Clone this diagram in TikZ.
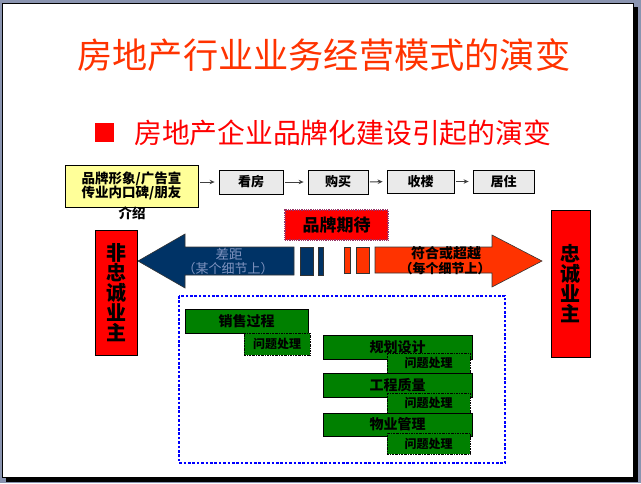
\documentclass[tikz,border=0pt]{standalone}
\usepackage{fontspec}
\setmainfont{Noto Sans CJK SC}
\usetikzlibrary{arrows.meta}
\definecolor{slidebg}{HTML}{8A94B0}
\definecolor{titlered}{HTML}{FF3300}
\definecolor{pureRed}{HTML}{FF0000}
\definecolor{navy}{HTML}{003366}
\definecolor{navytext}{HTML}{7F93BF}
\definecolor{orangered}{HTML}{FF3300}
\definecolor{dkgreen}{HTML}{008000}
\definecolor{dotblue}{HTML}{0000FF}
\definecolor{paleyellow}{HTML}{FFFF99}
\definecolor{lightgray}{HTML}{EAEAEA}
\definecolor{purpleborder}{HTML}{993366}
\begin{document}
\begin{tikzpicture}[x=1pt,y=-1pt,
  box/.style={draw=black,line width=0.8pt,inner sep=0pt,anchor=center},
  flowbox/.style={box,fill=lightgray,font=\bfseries\fontsize{13}{15}\selectfont},
  greenbox/.style={box,fill=dkgreen,font=\bfseries\fontsize{14}{16}\selectfont},
  qbox/.style={box,fill=dkgreen,dash pattern=on 2pt off 1pt on 0.6pt off 1pt,font=\bfseries\fontsize{12}{14}\selectfont},
  redbox/.style={box,fill=pureRed,font=\bfseries\fontsize{20}{21}\selectfont,align=center},
  flowarrow/.style={draw=black!75,line width=1pt,-{Stealth[length=5pt,width=4.5pt]},shorten <=1.5pt,shorten >=4pt},
  bigarrow/.style={draw=black!80,line width=0.6pt}
]
\useasboundingbox (0,0) rectangle (641,483);
% slide frame
\fill[slidebg] (0,0) rectangle (641,483);
\fill[black] (6,7) rectangle (638,482);
\draw[black,line width=1pt,fill=white] (2.5,3.5) rectangle (633,477);

% title
\node[text=titlered,font=\fontsize{35.2}{37}\selectfont,anchor=center] (title) at (324,55) {房地产行业业务经营模式的演变};
% subtitle
\fill[pureRed] (95,123) rectangle (114,142);
\node[text=pureRed,font=\fontsize{27.8}{30}\selectfont,anchor=west,inner sep=0pt] (subtitle) at (134,133) {房地产企业品牌化建设引起的演变};

% flow row
\node[box,fill=paleyellow,minimum width=133pt,minimum height=42pt,align=center,font=\bfseries\fontsize{13.5}{14.5}\selectfont] (brand) at (131.5,186) {品牌形象/广告宣\\传业内口碑/朋友};
\node[font=\bfseries\fontsize{13.5}{14.5}\selectfont,inner sep=0pt] (intro) at (132,213) {介绍};
\node[flowbox,minimum width=64pt,minimum height=24pt] (kf) at (251,182) {看房};
\node[flowbox,minimum width=60pt,minimum height=24pt] (gm) at (338,182) {购买};
\node[flowbox,minimum width=67pt,minimum height=23pt] (sl) at (420.5,181.5) {收楼};
\node[flowbox,minimum width=61pt,minimum height=23pt] (jz) at (503.5,181.5) {居住};
\draw[flowarrow] (brand.east |- kf.west) -- (kf.west);
\draw[flowarrow] (kf.east) -- (gm.west);
\draw[flowarrow] (gm.east) -- (sl.west);
\draw[flowarrow] (sl.east) -- (jz.west);

% brand expectation
\node[box,fill=pureRed,draw=purpleborder,densely dotted,line width=1.4pt,minimum width=103pt,minimum height=30pt,font=\bfseries\fontsize{17}{19}\selectfont] (expect) at (336.5,225) {品牌期待};

% left navy arrow
\filldraw[bigarrow,fill=navy] (138,261) -- (185,234) -- (185,247) -- (294,247) -- (294,275) -- (185,275) -- (185,288) -- cycle;
\filldraw[bigarrow,fill=navy] (300,247) rectangle (313,275);
\filldraw[bigarrow,fill=navy] (318,247) rectangle (323,275);
\node[text=navytext,font=\fontsize{13.5}{15}\selectfont,inner sep=0pt] (gap) at (229,254) {差距};
\node[text=navytext,font=\fontsize{13}{15}\selectfont,inner sep=0pt] (gapd) at (228,269) {（某个细节上）};

% right orange arrow
\filldraw[bigarrow,fill=orangered] (344,247) rectangle (350,273);
\filldraw[bigarrow,fill=orangered] (356,247) rectangle (369,273);
\filldraw[bigarrow,fill=orangered] (375,247) -- (492,247) -- (492,235) -- (542,261) -- (492,287) -- (492,273) -- (375,273) -- cycle;
\node[font=\bfseries\fontsize{14}{15}\selectfont,inner sep=0pt] (meet) at (446,253) {符合或超越};
\node[font=\bfseries\fontsize{13}{15}\selectfont,inner sep=0pt] (meetd) at (445,269) {（每个细节上）};

% side boxes
\node[redbox,minimum width=42pt,minimum height=125pt] (nonloyal) at (116,292.5) {非\\[-1pt]忠\\[-1pt]诚\\[-1pt]业\\[-1pt]主};
\node[redbox,minimum width=39pt,minimum height=147pt] (loyal) at (570.5,283.5) {忠\\[-1pt]诚\\[-1pt]业\\[-1pt]主};

% dotted frame
\draw[dotblue,line width=2.6pt,dash pattern=on 2.6pt off 1.8pt] (179,296) rectangle (505,463);

% green boxes
\node[greenbox,minimum width=123pt,minimum height=24pt] (sales) at (246.5,321) {销售过程};
\node[qbox,minimum width=66pt,minimum height=22pt] (q1) at (277,344) {问题处理};
\node[greenbox,minimum width=149pt,minimum height=24pt] (plan) at (397.5,347.5) {规划设计};
\node[qbox,minimum width=83pt,minimum height=20pt] (q2) at (428.5,363) {问题处理};
\node[greenbox,minimum width=149pt,minimum height=24pt] (eng) at (397.5,385) {工程质量};
\node[qbox,minimum width=83pt,minimum height=20pt] (q3) at (428.5,403) {问题处理};
\node[greenbox,minimum width=149pt,minimum height=23pt] (prop) at (397.5,424.5) {物业管理};
\node[qbox,minimum width=83pt,minimum height=21pt] (q4) at (428.5,443.5) {问题处理};
\end{tikzpicture}
\end{document}
